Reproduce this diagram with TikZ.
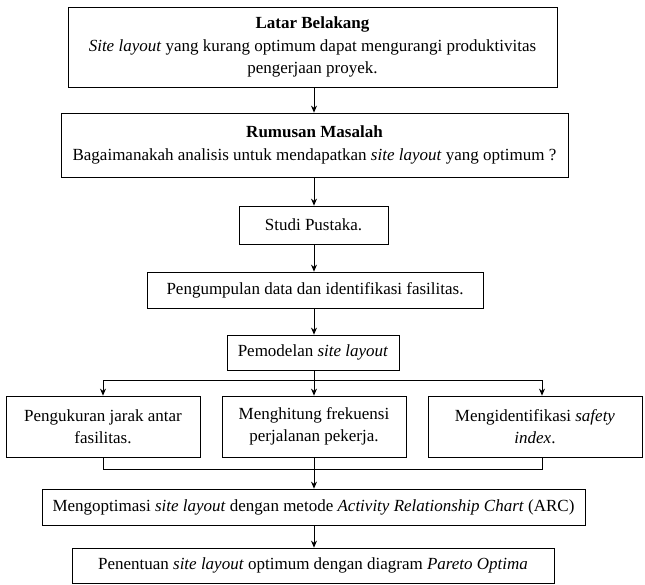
\documentclass[tikz,border=0pt]{standalone}
\usepackage{fontspec}
\setmainfont{Liberation Serif}
\usetikzlibrary{arrows.meta}
\tikzset{
  flowbox/.style={draw, line width=0.8pt, align=center, inner sep=2pt,
    font=\fontsize{17}{22.5}\selectfont},
  flowline/.style={line width=0.8pt},
  flowarrow/.style={line width=0.8pt, -{Stealth[length=7pt,width=6pt]}}
}
\begin{document}
\begin{tikzpicture}[x=1pt,y=-1pt]
	\useasboundingbox (0,0) rectangle (645,584);

	\node[flowbox, minimum width=489pt, minimum height=80pt] (latar) at (312.5,47)
		{\textbf{Latar Belakang}\\\textit{Site layout} yang kurang optimum dapat mengurangi produktivitas\\pengerjaan proyek.};
	\node[flowbox, minimum width=507pt, minimum height=64pt] (rumusan) at (314.5,145)
		{\textbf{Rumusan Masalah}\\Bagaimanakah analisis untuk mendapatkan \textit{site layout} yang optimum ?};
	\node[flowbox, minimum width=149pt, minimum height=38pt] (studi) at (313.5,225)
		{Studi Pustaka.};
	\node[flowbox, minimum width=336pt, minimum height=36pt] (data) at (315,290)
		{Pengumpulan data dan identifikasi fasilitas.};
	\node[flowbox, minimum width=172pt, minimum height=35pt] (model) at (313,352.5)
		{Pemodelan \textit{site layout}};

	\node[flowbox, minimum width=194pt, minimum height=61pt] (jarak) at (103,426.5)
		{Pengukuran jarak antar\\fasilitas.};
	\node[flowbox, minimum width=184pt, minimum height=61pt] (frek) at (314,426.5)
		{Menghitung frekuensi\\perjalanan pekerja.};
	\node[flowbox, minimum width=214pt, minimum height=61pt] (safety) at (535,426.5)
		{Mengidentifikasi \textit{safety}\\\textit{index}.};

	\node[flowbox, minimum width=543pt, minimum height=36pt] (arc) at (313.5,507)
		{Mengoptimasi \textit{site layout} dengan metode \textit{Activity Relationship Chart} (ARC)};
	\node[flowbox, minimum width=482pt, minimum height=35pt] (pareto) at (313,565.5)
		{Penentuan \textit{site layout} optimum dengan diagram \textit{Pareto Optima}};

	% split and merge lines
	\coordinate (split) at (314,380);
	\coordinate (merge) at (314,469);
	\coordinate (splitL) at (103,380);
	\coordinate (splitR) at (542,380);
	\coordinate (mergeL) at (103,469);
	\coordinate (mergeR) at (542,469);

	\draw[flowarrow] (latar.south -| 314,0) -- (rumusan.north -| 314,0);
	\draw[flowarrow] (rumusan.south -| 314,0) -- (studi.north -| 314,0);
	\draw[flowarrow] (studi.south -| 314,0) -- (data.north -| 314,0);
	\draw[flowarrow] (data.south -| 314,0) -- (model.north -| 314,0);

	\draw[flowline] (model.south -| split) -- (split);
	\draw[flowline] (splitL) -- (splitR);
	\draw[flowarrow] (splitL) -- (jarak.north -| splitL);
	\draw[flowarrow] (split) -- (frek.north);
	\draw[flowarrow] (splitR) -- (safety.north -| splitR);

	\draw[flowline] (jarak.south -| mergeL) -- (mergeL) -- (mergeR) -- (safety.south -| mergeR);
	\draw[flowline] (frek.south) -- (merge);
	\draw[flowarrow] (merge) -- (arc.north -| merge);
	\draw[flowarrow] (arc.south -| merge) -- (pareto.north -| merge);
\end{tikzpicture}
\end{document}
